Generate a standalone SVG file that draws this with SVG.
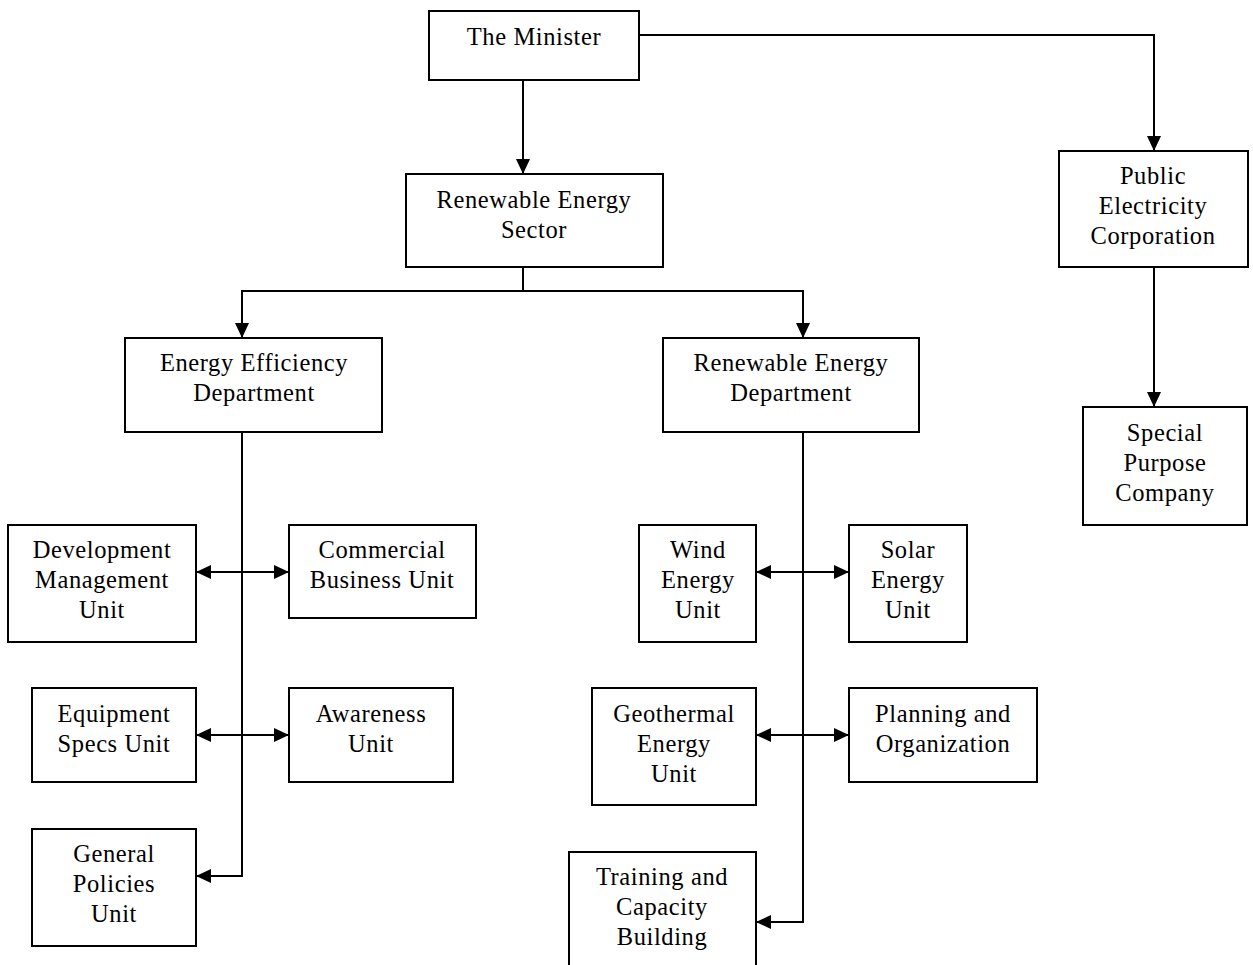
<svg xmlns="http://www.w3.org/2000/svg" width="1253" height="965" viewBox="0 0 1253 965">
<style>
.box{fill:#fff;stroke:#000;stroke-width:2}
.t{font-family:"Liberation Serif","Times New Roman",serif;font-size:24.5px;letter-spacing:0.6px;fill:#000;text-anchor:middle}
.c{fill:none;stroke:#000;stroke-width:2}
</style>
<defs>
<marker id="ah" markerUnits="userSpaceOnUse" markerWidth="16" markerHeight="16" viewBox="0 0 16 16" refX="15" refY="8" orient="auto-start-reverse">
<path d="M0,1 L15,8 L0,15 Z" fill="#000"/>
</marker>
</defs>
<rect width="1253" height="965" fill="#fff"/>
<g id="connectors">
<path class="c" d="M523,80 V174" marker-end="url(#ah)"/>
<path class="c" d="M639,35 H1154 V151" marker-end="url(#ah)"/>
<path class="c" d="M1154,267 V407" marker-end="url(#ah)"/>
<path class="c" d="M523,267 V291"/>
<path class="c" d="M523,291 H242 V338" marker-end="url(#ah)"/>
<path class="c" d="M523,291 H803 V338" marker-end="url(#ah)"/>
<path class="c" d="M242,432 V876 H196" marker-end="url(#ah)"/>
<path class="c" d="M196,572 H289" marker-start="url(#ah)" marker-end="url(#ah)"/>
<path class="c" d="M196,735 H289" marker-start="url(#ah)" marker-end="url(#ah)"/>
<path class="c" d="M803,432 V922 H756" marker-end="url(#ah)"/>
<path class="c" d="M756,572 H849" marker-start="url(#ah)" marker-end="url(#ah)"/>
<path class="c" d="M756,735 H849" marker-start="url(#ah)" marker-end="url(#ah)"/>
</g>
<g id="minister"><rect class="box" x="429" y="11" width="210" height="69"/><text class="t" x="534" y="45">The Minister</text></g>
<g id="re-sector"><rect class="box" x="406" y="174" width="257" height="93"/><text class="t" x="534" y="208">Renewable Energy</text><text class="t" x="534" y="238">Sector</text></g>
<g id="pec"><rect class="box" x="1059" y="151" width="189" height="116"/><text class="t" x="1153" y="184">Public</text><text class="t" x="1153" y="214">Electricity</text><text class="t" x="1153" y="244">Corporation</text></g>
<g id="spc"><rect class="box" x="1083" y="407" width="164" height="118"/><text class="t" x="1165" y="441">Special</text><text class="t" x="1165" y="471">Purpose</text><text class="t" x="1165" y="501">Company</text></g>
<g id="eed"><rect class="box" x="125" y="338" width="257" height="94"/><text class="t" x="254" y="371">Energy Efficiency</text><text class="t" x="254" y="401">Department</text></g>
<g id="red"><rect class="box" x="663" y="338" width="256" height="94"/><text class="t" x="791" y="371">Renewable Energy</text><text class="t" x="791" y="401">Department</text></g>
<g id="dev"><rect class="box" x="8" y="525" width="188" height="117"/><text class="t" x="102" y="558">Development</text><text class="t" x="102" y="588">Management</text><text class="t" x="102" y="618">Unit</text></g>
<g id="cbu"><rect class="box" x="289" y="525" width="187" height="93"/><text class="t" x="382" y="558">Commercial</text><text class="t" x="382" y="588">Business Unit</text></g>
<g id="esu"><rect class="box" x="32" y="688" width="164" height="94"/><text class="t" x="114" y="722">Equipment</text><text class="t" x="114" y="752">Specs Unit</text></g>
<g id="awu"><rect class="box" x="289" y="688" width="164" height="94"/><text class="t" x="371" y="722">Awareness</text><text class="t" x="371" y="752">Unit</text></g>
<g id="gpu"><rect class="box" x="32" y="829" width="164" height="117"/><text class="t" x="114" y="862">General</text><text class="t" x="114" y="892">Policies</text><text class="t" x="114" y="922">Unit</text></g>
<g id="weu"><rect class="box" x="639" y="525" width="117" height="117"/><text class="t" x="698" y="558">Wind</text><text class="t" x="698" y="588">Energy</text><text class="t" x="698" y="618">Unit</text></g>
<g id="seu"><rect class="box" x="849" y="525" width="118" height="117"/><text class="t" x="908" y="558">Solar</text><text class="t" x="908" y="588">Energy</text><text class="t" x="908" y="618">Unit</text></g>
<g id="geu"><rect class="box" x="592" y="688" width="164" height="117"/><text class="t" x="674" y="722">Geothermal</text><text class="t" x="674" y="752">Energy</text><text class="t" x="674" y="782">Unit</text></g>
<g id="pao"><rect class="box" x="849" y="688" width="188" height="94"/><text class="t" x="943" y="722">Planning and</text><text class="t" x="943" y="752">Organization</text></g>
<g id="tcb"><rect class="box" x="569" y="852" width="187" height="125"/><text class="t" x="662" y="885">Training and</text><text class="t" x="662" y="915">Capacity</text><text class="t" x="662" y="945">Building</text></g>
</svg>
